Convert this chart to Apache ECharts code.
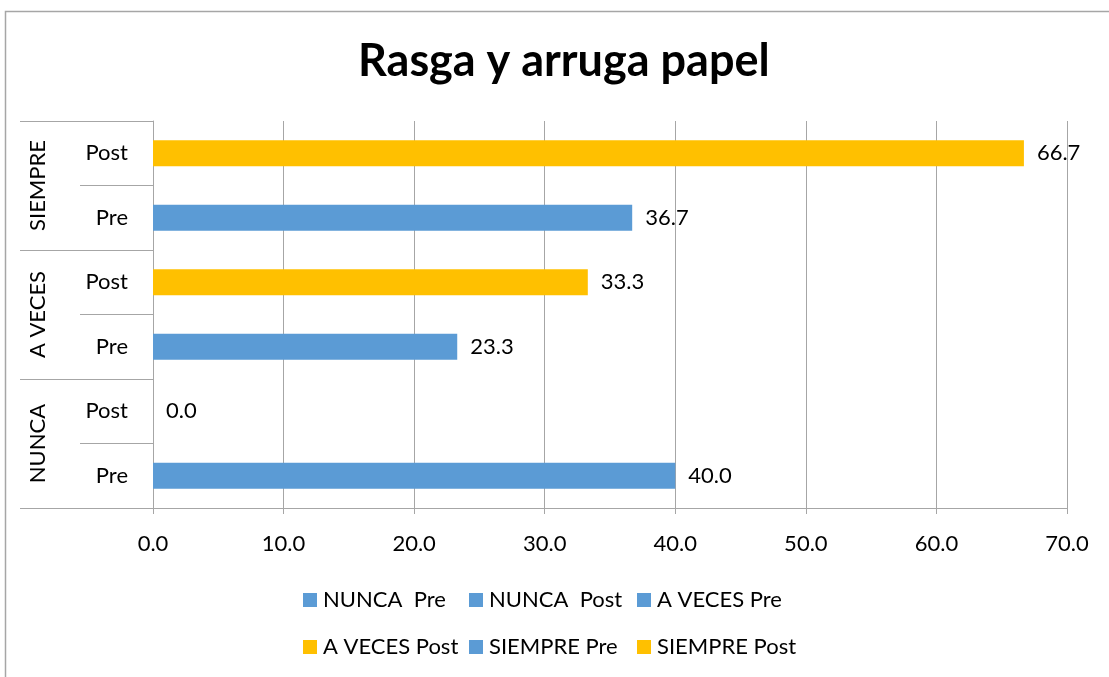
<!DOCTYPE html>
<html>
<head>
<meta charset="utf-8">
<script src="https://cdn.jsdelivr.net/npm/echarts@6/dist/echarts.min.js"></script>
<style>
html,body{margin:0;padding:0;background:#fff;}
#chart{width:1109px;height:677px;}
</style>
</head>
<body>
<div id="chart"></div>
<script>
var titleText = 'Rasga y arruga papel';
var categories = ['Pre', 'Post', 'Pre', 'Post', 'Pre', 'Post'];
var groups = ['NUNCA', 'A VECES', 'SIEMPRE'];
var seriesNames = ['NUNCA  Pre', 'NUNCA  Post', 'A VECES Pre', 'A VECES Post', 'SIEMPRE Pre', 'SIEMPRE Post'];
var values = [40.0, 0.0, 23.3, 33.3, 36.7, 66.7];
var seriesColors = ['#5B9BD5', '#5B9BD5', '#5B9BD5', '#FFC000', '#5B9BD5', '#FFC000'];
var xMin = 0, xMax = 70, xStep = 10;

var FONT = 'Lato';
var FS = 22;
var GRAY = '#A6A6A6';

var series = seriesNames.map(function (name, i) {
  var d = categories.map(function (_, j) { return j === i ? values[i] : '-'; });
  return {
    name: name,
    type: 'bar',
    stack: 'all',
    barWidth: 26,
    yAxisIndex: 0,
    itemStyle: { color: seriesColors[i] },
    data: d,
    label: {
      show: true,
      position: 'right',
      distance: 13,
      color: '#000',
      fontFamily: FONT,
      fontSize: FS,
      formatter: function (p) { return Number(p.value).toFixed(1); }
    }
  };
});

// legend columns (Excel-like column alignment)
var legendCols = [[0, 3], [1, 4], [2, 5]];
var legendLefts = [303, 469, 637];
var legends = legendCols.map(function (col, k) {
  return {
    orient: 'vertical',
    left: legendLefts[k],
    top: 589,
    padding: 0,
    itemGap: 25,
    itemWidth: 14,
    itemHeight: 14,
    icon: 'rect',
    selectedMode: false,
    data: col.map(function (i) { return seriesNames[i]; }),
    textStyle: { fontFamily: FONT, fontSize: FS, color: '#000', lineHeight: 22, padding: [0, 0, 0, 1] }
  };
});

var chart = echarts.init(document.getElementById('chart'), null, { renderer: 'canvas' });
chart.setOption({
  animation: false,
  backgroundColor: '#fff',
  title: {
    text: titleText,
    left: 353,
    top: 34,
    textStyle: { fontFamily: FONT, fontSize: 45, fontWeight: 'bold', color: '#000' }
  },
  graphic: [{
    type: 'rect',
    left: 3, top: 9,
    shape: { width: 1200, height: 800 },
    style: { fill: 'none', stroke: GRAY, lineWidth: 1.5 },
    silent: true
  }],
  legend: legends,
  grid: { left: 153, right: 42, top: 121, bottom: 169, containLabel: false },
  xAxis: {
    type: 'value',
    min: xMin, max: xMax, interval: xStep,
    axisLine: { show: true, lineStyle: { color: GRAY, width: 1 } },
    axisTick: { show: true, length: 6, inside: false, lineStyle: { color: GRAY } },
    splitLine: { show: true, lineStyle: { color: GRAY, width: 1 } },
    axisLabel: {
      margin: 25, color: '#000', fontFamily: FONT, fontSize: FS,
      formatter: function (v) { return Number(v).toFixed(1); }
    }
  },
  yAxis: [{
    type: 'category',
    data: categories,
    position: 'left',
    axisLine: { show: true, lineStyle: { color: GRAY, width: 1 } },
    axisTick: { show: true, length: 73, interval: 0, lineStyle: { color: GRAY } },
    axisLabel: { margin: 25, interval: 0, color: '#000', fontFamily: FONT, fontSize: FS },
    splitLine: { show: false }
  }, {
    type: 'category',
    data: groups,
    position: 'left',
    offset: 0,
    axisLine: { show: false },
    axisTick: { show: true, length: 133, interval: 0, lineStyle: { color: GRAY } },
    axisLabel: { margin: 104, interval: 0, rotate: 90, color: '#000', fontFamily: FONT, fontSize: FS },
    splitLine: { show: false }
  }],
  series: series
});
</script>
</body>
</html>
